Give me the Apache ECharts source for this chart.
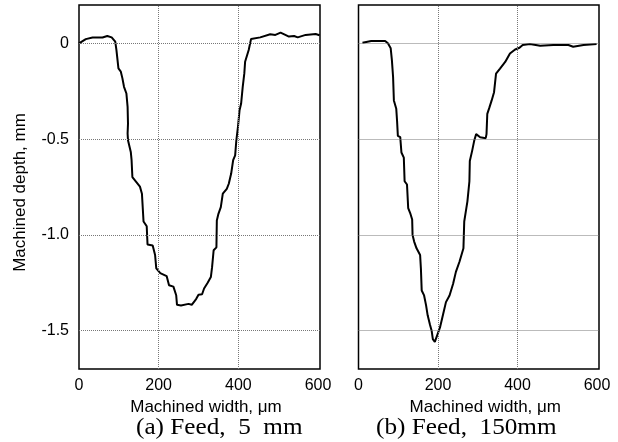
<!DOCTYPE html>
<html>
<head>
<meta charset="utf-8">
<script src="https://cdn.jsdelivr.net/npm/echarts@6/dist/echarts.min.js"></script>
<style>
html,body{margin:0;padding:0;background:#fff;}
#c{width:618px;height:442px;}
</style>
</head>
<body>
<div id="c"></div>
<script>
// Panel (a): Feed 5 mm
const widthA = [0,4,17,34,59,71,82,91,94,99,105,109,113,119,122,123,122,123,130,132,134,144,153,158,162,170,172,185,191,194,204,220,226,237,244,246,256,261,275,283,294,300,309,314,323,331,334,338,345,346,350,356,361,371,376,382,387,392,395,399,403,407,411,415,417,426,432,455,480,493,506,518,527,540,549,569,594,604];
const depthA = [0,0.002,0.022,0.03,0.03,0.038,0.031,0.009,-0.035,-0.131,-0.148,-0.183,-0.227,-0.262,-0.332,-0.419,-0.471,-0.506,-0.567,-0.61,-0.698,-0.724,-0.748,-0.785,-0.93,-0.955,-1.05,-1.055,-1.105,-1.175,-1.2,-1.215,-1.263,-1.27,-1.315,-1.365,-1.368,-1.36,-1.36,-1.365,-1.335,-1.312,-1.31,-1.28,-1.25,-1.22,-1.17,-1.08,-1.065,-0.925,-0.89,-0.855,-0.785,-0.76,-0.733,-0.68,-0.61,-0.585,-0.506,-0.437,-0.35,-0.314,-0.227,-0.157,-0.096,-0.035,0.023,0.031,0.047,0.044,0.056,0.044,0.035,0.038,0.031,0.044,0.049,0.042];
// Panel (b): Feed 150 mm
const widthB = [10,32,67,74,81,84,87,89,95,97,99,105,108,114,116,122,125,130,135,136,140,146,155,157,159,165,170,174,180,184,187,192,197,199,205,213,220,229,238,245,254,264,265,266,270,274,279,280,286,291,296,301,306,310,320,322,324,329,335,341,346,356,369,381,394,405,413,431,457,490,528,540,566,599];
const depthB = [0.003,0.012,0.012,0,-0.026,-0.088,-0.176,-0.298,-0.342,-0.404,-0.483,-0.49,-0.57,-0.597,-0.72,-0.737,-0.86,-0.886,-0.92,-1.0,-1.035,-1.07,-1.105,-1.176,-1.29,-1.316,-1.368,-1.42,-1.47,-1.5,-1.544,-1.558,-1.553,-1.518,-1.483,-1.413,-1.351,-1.316,-1.255,-1.193,-1.14,-1.07,-1.0,-0.93,-0.877,-0.825,-0.72,-0.614,-0.56,-0.509,-0.474,-0.465,-0.49,-0.5,-0.495,-0.474,-0.368,-0.337,-0.298,-0.255,-0.158,-0.132,-0.097,-0.053,-0.032,-0.023,-0.009,-0.004,-0.013,-0.009,-0.009,-0.018,-0.009,-0.004];

const xTicks = [0, 200, 400, 600];
const yTicks = [0, -0.5, -1.0, -1.5];
const xGrid = [200, 400];
const yGrid = [0, -0.5, -1.0, -1.5];
const captions = ['(a) Feed,  5  mm', '(b) Feed,  150mm'];
const xTitle = 'Machined width, μm';
const yTitle = 'Machined depth, mm';

const zip = (xs, ys) => xs.map((x, i) => [x, ys[i]]);
const near = (a, b) => Math.abs(a - b) < 1e-6;

const sans = 'Liberation Sans, Arial, sans-serif';
const serifFont = '24px "Liberation Serif", "DejaVu Serif", serif';

function xAxisFor(idx) {
  return {
    type: 'value', gridIndex: idx, min: 0, max: 605, interval: 200,
    axisLine: {show: false}, axisTick: {show: false}, splitLine: {show: false},
    axisLabel: {
      color: '#000', fontSize: 16, fontFamily: sans, margin: 9,
      formatter: v => xTicks.some(t => near(t, v)) ? String(Math.round(v)) : ''
    },
    name: xTitle, nameLocation: 'middle', nameGap: 29,
    nameTextStyle: {color: '#000', fontSize: 17, fontFamily: sans, padding: [0, 0, 0, 13]}
  };
}
function yAxisFor(idx, showLabels) {
  return {
    type: 'value', gridIndex: idx, min: -1.7, max: 0.2, interval: 0.1,
    axisLine: {show: false}, axisTick: {show: false}, splitLine: {show: false},
    axisLabel: {
      show: showLabels, color: '#000', fontSize: 16, fontFamily: sans, margin: 10,
      formatter: v => {
        const t = yTicks.find(t => near(t, v));
        if (t === undefined) return '';
        return t === 0 ? '0' : t.toFixed(1);
      }
    }
  };
}
function gridSeries(idx) {
  return {
    type: 'line', xAxisIndex: idx, yAxisIndex: idx, data: [], z: 1,
    markLine: {
      silent: true, symbol: ['none', 'none'], animation: false,
      label: {show: false},
      lineStyle: {type: 'dotted', color: '#777', width: 1},
      data: yGrid.map(v => ({yAxis: v})).concat(xGrid.map(v => ({xAxis: v})))
    }
  };
}
function curve(idx, xs, ys) {
  return {
    type: 'line', xAxisIndex: idx, yAxisIndex: idx, data: zip(xs, ys), z: 3,
    showSymbol: false, smooth: false,
    lineStyle: {color: '#000', width: 2}
  };
}

const chart = echarts.init(document.getElementById('c'), null, {renderer: 'canvas'});
chart.setOption({
  animation: false,
  backgroundColor: '#fff',
  grid: [
    {left: 79, top: 5, width: 241, height: 364, show: true, borderColor: '#000', borderWidth: 1.5, backgroundColor: 'transparent'},
    {left: 358.5, top: 5, width: 240.5, height: 364, show: true, borderColor: '#000', borderWidth: 1.5, backgroundColor: 'transparent'}
  ],
  xAxis: [xAxisFor(0), xAxisFor(1)],
  yAxis: [yAxisFor(0, true), yAxisFor(1, false)],
  series: [gridSeries(0), gridSeries(1), curve(0, widthA, depthA), curve(1, widthB, depthB)],
  graphic: [
    {type: 'text', x: 20, y: 192.5, rotation: Math.PI / 2,
     style: {text: yTitle, fill: '#000', font: '17px "Liberation Sans", Arial, sans-serif', align: 'center', verticalAlign: 'middle'}},
    {type: 'text', x: 136, y: 427.5, scaleX: 1.05,
     style: {text: captions[0], fill: '#000', font: serifFont, align: 'left', verticalAlign: 'middle'}},
    {type: 'text', x: 376, y: 427.5, scaleX: 1.05,
     style: {text: captions[1], fill: '#000', font: serifFont, align: 'left', verticalAlign: 'middle'}}
  ]
});
</script>
</body>
</html>
